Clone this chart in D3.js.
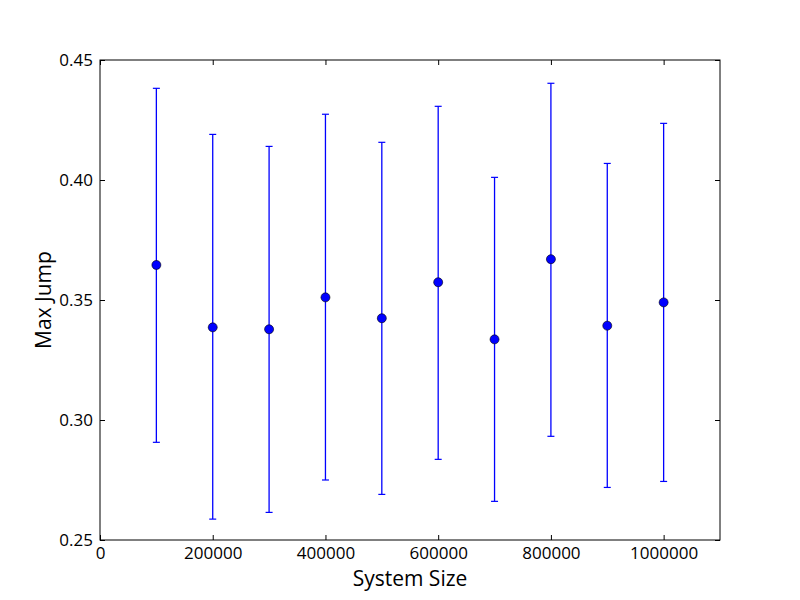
<!DOCTYPE html>
<html>
<head>
<meta charset="utf-8">
<script src="https://cdn.jsdelivr.net/npm/d3@7"></script>
<style>
body { margin: 0; background: #fff; }
svg { display: block; }
</style>
</head>
<body>
<svg id="chart" width="800" height="600"></svg>
<script>
const systemSizes = [100000, 200000, 300000, 400000, 500000, 600000, 700000, 800000, 900000, 1000000];
const meanJump = [0.3646, 0.3386, 0.3378, 0.3511, 0.3424, 0.3574, 0.3336, 0.3670, 0.3393, 0.3490];
const upperJump = [0.4382, 0.4190, 0.4140, 0.4274, 0.4157, 0.4307, 0.4011, 0.4403, 0.4069, 0.4236];
const lowerJump = [0.2907, 0.2587, 0.2615, 0.2750, 0.2690, 0.2836, 0.2661, 0.2932, 0.2719, 0.2744];
const xTicks = [0, 200000, 400000, 600000, 800000, 1000000];
const yTicks = [0.25, 0.30, 0.35, 0.40, 0.45];
const xLabel = "System Size";
const yLabel = "Max Jump";

const data = systemSizes.map((s, i) => ({ x: s, y: meanJump[i], hi: upperJump[i], lo: lowerJump[i] }));

const mL = 100, mR = 720, mT = 60, mB = 540;
const svg = d3.select("#chart");
const x = d3.scaleLinear().domain([0, 1100000]).range([mL, mR]);
const y = d3.scaleLinear().domain([0.25, 0.45]).range([mB, mT]);

const tickFont = "'Open Sans', 'DejaVu Sans', sans-serif";

const gx = svg.append("g").attr("transform", `translate(0,${mB})`)
  .call(d3.axisBottom(x).tickValues(xTicks).tickFormat(d3.format("d")).tickSize(-5).tickPadding(7));
const gxTop = svg.append("g").attr("transform", `translate(0,${mT})`)
  .call(d3.axisTop(x).tickValues(xTicks).tickFormat("").tickSize(-5));
const gy = svg.append("g").attr("transform", `translate(${mL},0)`)
  .call(d3.axisLeft(y).tickValues(yTicks).tickFormat(d3.format(".2f")).tickSize(-5).tickPadding(7));
const gyRight = svg.append("g").attr("transform", `translate(${mR},0)`)
  .call(d3.axisRight(y).tickValues(yTicks).tickFormat("").tickSize(-5));

[gx, gxTop, gy, gyRight].forEach(g => {
  g.select(".domain").remove();
  g.selectAll(".tick line").attr("stroke", "#000").attr("stroke-width", 1);
  g.selectAll("text").attr("fill", "#000").style("font-family", tickFont).style("font-size", "17px");
});

svg.append("rect").attr("x", mL).attr("y", mT).attr("width", mR - mL).attr("height", mB - mT)
  .attr("fill", "none").attr("stroke", "#000").attr("stroke-width", 1);

const eb = svg.append("g");
eb.selectAll("line.bar").data(data).join("line").attr("class", "bar")
  .attr("x1", d => x(d.x)).attr("x2", d => x(d.x))
  .attr("y1", d => y(d.hi)).attr("y2", d => y(d.lo))
  .attr("stroke", "#0000ff").attr("stroke-width", 1.3);
eb.selectAll("line.capHi").data(data).join("line").attr("class", "capHi")
  .attr("x1", d => x(d.x) - 3.5).attr("x2", d => x(d.x) + 3.5)
  .attr("y1", d => y(d.hi)).attr("y2", d => y(d.hi))
  .attr("stroke", "#0000ff").attr("stroke-width", 1.2);
eb.selectAll("line.capLo").data(data).join("line").attr("class", "capLo")
  .attr("x1", d => x(d.x) - 3.5).attr("x2", d => x(d.x) + 3.5)
  .attr("y1", d => y(d.lo)).attr("y2", d => y(d.lo))
  .attr("stroke", "#0000ff").attr("stroke-width", 1.2);

svg.append("g").selectAll("circle").data(data).join("circle")
  .attr("cx", d => x(d.x)).attr("cy", d => y(d.y)).attr("r", 4.5)
  .attr("fill", "#0000ff").attr("stroke", "#000").attr("stroke-width", 0.6);

svg.append("text").attr("x", (mL + mR) / 2).attr("y", 586).attr("text-anchor", "middle")
  .style("font-family", "'Open Sans', sans-serif").style("font-size", "21px").text(xLabel);
svg.append("text").attr("transform", `translate(51,${(mT + mB) / 2}) rotate(-90)`).attr("text-anchor", "middle")
  .style("font-family", "'Open Sans', sans-serif").style("font-size", "21px").text(yLabel);
</script>
</body>
</html>
